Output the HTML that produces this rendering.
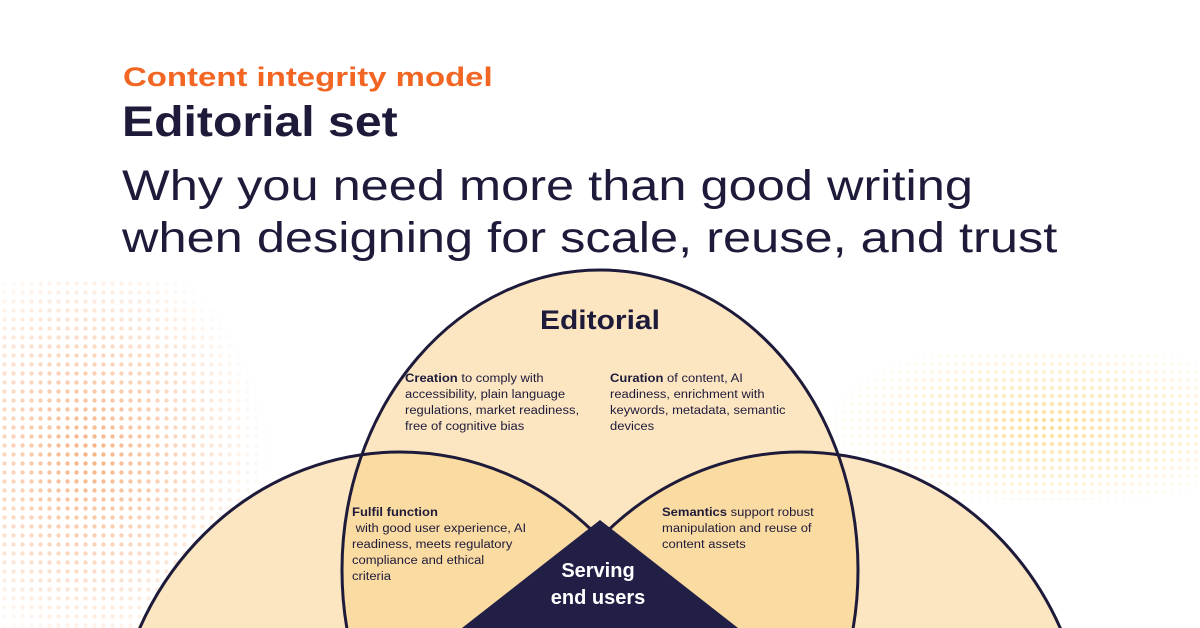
<!DOCTYPE html>
<html><head><meta charset="utf-8"><style>
html,body{margin:0;padding:0;background:#fff;overflow:hidden;}
body{width:1200px;height:628px;overflow:hidden;position:relative;font-family:"Liberation Sans",sans-serif;color:#1e1b3a;}
.t{position:absolute;white-space:nowrap;transform-origin:0 0;}
.sm{position:absolute;font-size:11.5px;line-height:16px;color:#1e1b3a;transform-origin:0 0;transform:scaleX(1.13);white-space:nowrap;}
.sm b{font-weight:bold;}
</style></head><body>
<svg width="1200" height="628" style="position:absolute;left:0;top:0">
<defs>
<pattern id="dotO" width="9" height="9" patternUnits="userSpaceOnUse"><circle cx="4.5" cy="4.5" r="2.2" fill="#f6b283"/></pattern>
<pattern id="dotY" width="8" height="8" patternUnits="userSpaceOnUse"><circle cx="4" cy="4" r="2.2" fill="#fbe09a"/></pattern>
<radialGradient id="gO" cx="0.3" cy="0.5" r="0.6"><stop offset="0" stop-color="#fff" stop-opacity="1"/><stop offset="1" stop-color="#fff" stop-opacity="0"/></radialGradient>
<mask id="mO"><rect x="0" y="280" width="300" height="348" fill="url(#gO)"/></mask>
<radialGradient id="gY" cx="0.6" cy="0.5" r="0.6"><stop offset="0" stop-color="#fff" stop-opacity="1"/><stop offset="1" stop-color="#fff" stop-opacity="0"/></radialGradient>
<mask id="mY"><rect x="820" y="350" width="380" height="150" fill="url(#gY)"/></mask>
<clipPath id="cTop"><ellipse cx="600" cy="570" rx="258" ry="300"/></clipPath>
</defs>
<rect x="0" y="280" width="300" height="348" fill="url(#dotO)" mask="url(#mO)"/>
<rect x="820" y="350" width="380" height="150" fill="url(#dotY)" mask="url(#mY)"/>
<ellipse cx="600" cy="570" rx="258" ry="300" fill="#fce6c2"/>
<ellipse cx="400" cy="760" rx="288" ry="308" fill="#fce6c2"/>
<ellipse cx="800" cy="760" rx="288" ry="308" fill="#fce6c2"/>
<g clip-path="url(#cTop)">
<ellipse cx="400" cy="760" rx="288" ry="308" fill="#fadba2"/>
<ellipse cx="800" cy="760" rx="288" ry="308" fill="#fadba2"/>
</g>
<g fill="none" stroke="#1e1b3a" stroke-width="3">
<ellipse cx="600" cy="570" rx="258" ry="300"/>
<ellipse cx="400" cy="760" rx="288" ry="308"/>
<ellipse cx="800" cy="760" rx="288" ry="308"/>
</g>
<polygon points="600,520 462,628 738,628" fill="#221f47"/>
</svg>
<div class="t" style="left:123px;top:62px;font-size:27px;font-weight:bold;color:#f26522;transform:scaleX(1.22);">Content integrity model</div>
<div class="t" style="left:122px;top:98px;font-size:43px;font-weight:bold;transform:scaleX(1.12);">Editorial set</div>
<div class="t" style="left:122px;top:160px;font-size:43px;line-height:52px;transform:scaleX(1.175);">Why you need more than good writing<br>when designing for scale, reuse, and trust</div>
<div class="t" style="left:540px;top:305px;font-size:27px;font-weight:bold;transform:scaleX(1.11);">Editorial</div>
<div class="sm" style="left:405px;top:371px;"><b>Creation</b> to comply with<br>accessibility, plain language<br>regulations, market readiness,<br>free of cognitive bias</div>
<div class="sm" style="left:610px;top:371px;"><b>Curation</b> of content, AI<br>readiness, enrichment with<br>keywords, metadata, semantic<br>devices</div>
<div class="sm" style="left:352px;top:505px;"><b>Fulfil function</b><br>&nbsp;with good user experience, AI<br>readiness, meets regulatory<br>compliance and ethical<br>criteria</div>
<div class="sm" style="left:662px;top:505px;"><b>Semantics</b> support robust<br>manipulation and reuse of<br>content assets</div>
<div class="t" style="left:498px;width:200px;text-align:center;top:558px;font-size:20px;line-height:27px;font-weight:bold;color:#fff;">Serving<br>end users</div>
</body></html>
